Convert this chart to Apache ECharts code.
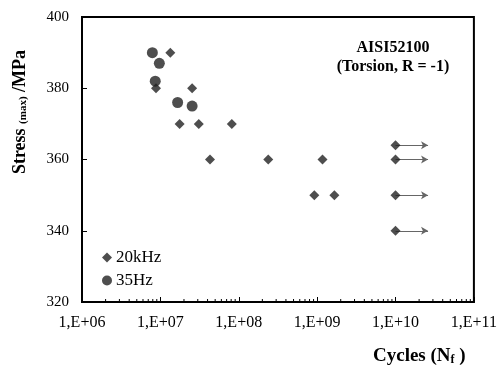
<!DOCTYPE html>
<html>
<head>
<meta charset="utf-8">
<script src="https://cdn.jsdelivr.net/npm/echarts@6/dist/echarts.min.js"></script>
<style>
  html, body { margin: 0; padding: 0; background: #fff; }
  #main { width: 500px; height: 368px; }
</style>
</head>
<body>
<div id="main"></div>
<script>
// 20 kHz tests (broken)
var diamonds20k = [
  [1.34e7, 390], [8.8e6, 380], [2.54e7, 380],
  [1.76e7, 370], [3.09e7, 370], [8.15e7, 370],
  [4.3e7, 360], [2.38e8, 360], [1.17e9, 360],
  [9.2e8, 350], [1.66e9, 350]
];
// 20 kHz run-outs (arrows)
var runouts20k = [[1e10, 364], [1e10, 360], [1e10, 350], [1e10, 340]];
var arrowEnd = 2.6e10;
// 35 Hz tests
var circles35 = [[7.9e6, 390], [9.7e6, 387], [8.6e6, 382], [1.66e7, 376], [2.54e7, 375]];

var xMin = 1e6, xMax = 1e11;

// minor log ticks 2..9 in each decade
var minorTicks = [];
for (var d = 6; d < 11; d++) {
  for (var m = 2; m <= 9; m++) minorTicks.push([m * Math.pow(10, d), 320]);
}

var serif = '"Liberation Serif", "Times New Roman", serif';
var ink = '#222';

var chart = echarts.init(document.getElementById('main'));
chart.setOption({
  animation: false,
  grid: {
    left: 82, right: 23, top: 17, bottom: 66,
    show: true, borderColor: '#000', borderWidth: 2, backgroundColor: 'transparent'
  },
  legend: {
    left: 97, top: 244, orient: 'vertical',
    itemWidth: 10, itemHeight: 10, itemGap: 6,
    textStyle: { fontFamily: serif, fontSize: 17, color: '#000', padding: [0, 0, 0, -1] },
    data: [
      { name: '20kHz', icon: 'diamond' },
      { name: '35Hz', icon: 'circle' }
    ]
  },
  xAxis: {
    type: 'log', logBase: 10, min: xMin, max: xMax,
    splitLine: { show: false },
    axisLine: { lineStyle: { color: '#000', width: 2 } },
    axisTick: { inside: true, length: 5, lineStyle: { color: '#000' } },
    axisLabel: {
      margin: 13, color: '#000', fontFamily: serif, fontSize: 16,
      formatter: function (v) {
        var e = Math.round(Math.log10(v));
        return '1,E+' + (e < 10 ? '0' + e : e);
      }
    }
  },
  yAxis: {
    type: 'value', min: 320, max: 400, interval: 20,
    splitLine: { show: false },
    axisLine: { show: true, lineStyle: { color: '#000', width: 2 } },
    axisTick: { show: true, inside: true, length: 5, lineStyle: { color: '#000' } },
    axisLabel: { margin: 13, color: '#000', fontFamily: serif, fontSize: 15 }
  },
  graphic: [
    {
      type: 'text', x: 20, y: 112, rotation: Math.PI / 2,
      style: {
        text: '{b|Stress }{s|(max)}{b| /MPa}', align: 'center', verticalAlign: 'middle',
        rich: {
          b: { fontFamily: serif, fontSize: 18, fontWeight: 'bold', fill: '#000' },
          s: { fontFamily: serif, fontSize: 11, fontWeight: 'bold', fill: '#000', padding: [7, 0, 0, 0] }
        }
      }
    },
    {
      type: 'text', x: 373, y: 356,
      style: {
        text: '{b|Cycles (N}{s|f}{b| )}', align: 'left', verticalAlign: 'middle',
        rich: {
          b: { fontFamily: serif, fontSize: 19, fontWeight: 'bold', fill: '#000' },
          s: { fontFamily: serif, fontSize: 12, fontWeight: 'bold', fill: '#000', padding: [7, 0, 0, 0] }
        }
      }
    },
    {
      type: 'text', x: 393, y: 38,
      style: {
        text: 'AISI52100\n(Torsion, R = -1)', align: 'center', lineHeight: 19,
        font: 'bold 16px ' + serif, fill: '#000'
      }
    }
  ],
  series: [
    {
      name: '20kHz', type: 'scatter', symbol: 'diamond', symbolSize: 10,
      itemStyle: { color: ink },
      data: diamonds20k.concat(runouts20k),
      z: 5,
      markLine: {
        silent: true, symbol: ['none', 'arrow'], symbolSize: [6, 7],
        label: { show: false },
        lineStyle: { color: '#666', width: 1.2, type: 'solid' },
        data: runouts20k.map(function (p) {
          return [{ coord: p }, { coord: [arrowEnd, p[1]] }];
        })
      }
    },
    {
      name: '35Hz', type: 'scatter', symbol: 'circle', symbolSize: 11,
      itemStyle: { color: ink },
      data: circles35, z: 5
    },
    {
      name: 'minor', type: 'custom', silent: true,
      data: minorTicks,
      renderItem: function (params, api) {
        var p = api.coord([api.value(0), api.value(1)]);
        return {
          type: 'line',
          shape: { x1: p[0], y1: p[1], x2: p[0], y2: p[1] - 3 },
          style: { stroke: '#000', lineWidth: 1 }
        };
      }
    }
  ]
});
</script>
</body>
</html>
